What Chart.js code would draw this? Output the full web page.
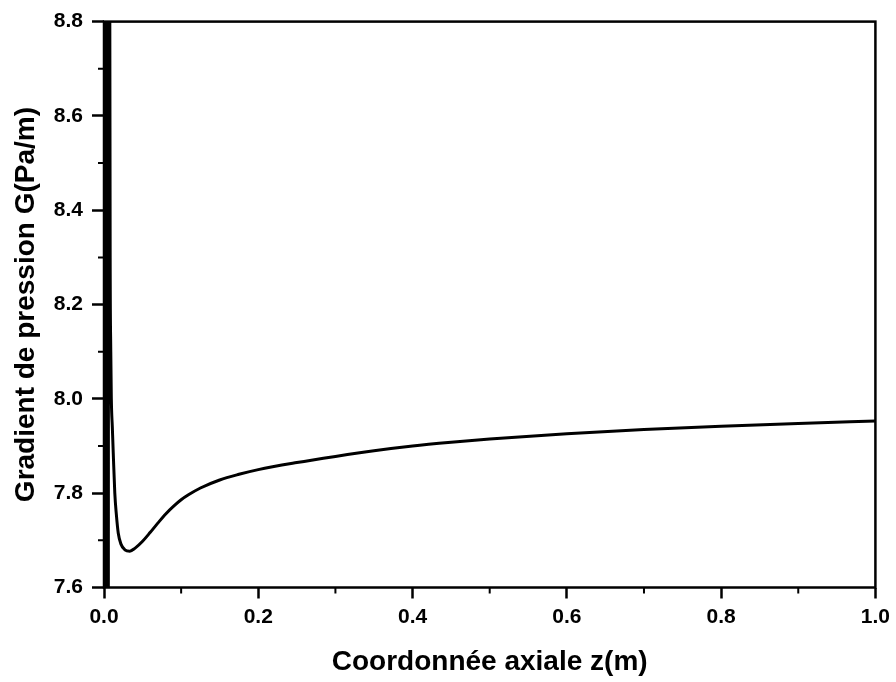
<!DOCTYPE html>
<html>
<head>
<meta charset="utf-8">
<script src="https://cdn.jsdelivr.net/npm/chart.js@4/dist/chart.umd.min.js"></script>
<style>
    body { margin: 0; background: #ffffff; }
    #wrap { width: 896px; height: 682px; }
</style>
</head>
<body>
<div id="wrap"><canvas id="gradChart" width="896" height="682"></canvas></div>
<script>
// Axial coordinate z(m) and pressure gradient G(Pa/m).
// The first points are the fast oscillation next to z = 0 (goes past the axis limits).
let zValues = [
    0.0000, 0.0005, 0.0010, 0.0015, 0.0020, 0.0025, 0.0030, 0.0035, 0.0040, 0.0045, 0.0050, 0.0055, 0.0060,
    0.0075, 0.0080, 0.0088, 0.0095, 0.0108, 0.0120, 0.0140, 0.0160, 0.0185, 0.0220, 0.0270, 0.0335,
    0.040, 0.050, 0.060, 0.070, 0.080, 0.090, 0.100, 0.110, 0.125, 0.150, 0.175, 0.200,
    0.250, 0.300, 0.350, 0.400, 0.450, 0.500, 0.600, 0.700, 0.800, 0.900, 1.000
];
let gValues = [
    9.2, 7.2, 9.2, 7.2, 9.2, 7.2, 9.2, 7.2, 9.2, 7.2, 9.2, 7.2, 9.2,
    8.85, 8.30, 8.10, 8.00, 7.94, 7.885, 7.80, 7.755, 7.715, 7.692, 7.680, 7.677,
    7.683, 7.698, 7.717, 7.737, 7.756, 7.772, 7.786, 7.797, 7.811, 7.828, 7.840, 7.850,
    7.865, 7.878, 7.890, 7.900, 7.908, 7.915, 7.926, 7.935, 7.942, 7.948, 7.953
];

let xTicks = [0.0, 0.2, 0.4, 0.6, 0.8, 1.0];
let yTicks = [7.6, 7.8, 8.0, 8.2, 8.4, 8.6, 8.8];
let xMinorTicks = [0.1, 0.3, 0.5, 0.7, 0.9];
let yMinorTicks = [7.7, 7.9, 8.1, 8.3, 8.5, 8.7];

let points = zValues.map((z, i) => ({ x: z, y: gValues[i] }));

// frame + minor ticks (Chart.js has no minor ticks)
const framePlugin = {
    id: 'frame',
    afterDraw(chart) {
        let ctx = chart.ctx;
        let area = chart.chartArea;
        let xs = chart.scales.x, ys = chart.scales.y;
        ctx.save();
        ctx.strokeStyle = '#000';
        ctx.lineWidth = 2.5;
        ctx.strokeRect(area.left, area.top, area.right - area.left, area.bottom - area.top);
        ctx.lineWidth = 2;
        ctx.beginPath();
        xMinorTicks.forEach(v => {
            let px = xs.getPixelForValue(v);
            ctx.moveTo(px, area.bottom);
            ctx.lineTo(px, area.bottom + 6);
        });
        yMinorTicks.forEach(v => {
            let py = ys.getPixelForValue(v);
            ctx.moveTo(area.left, py);
            ctx.lineTo(area.left - 6, py);
        });
        ctx.stroke();
        ctx.restore();
    }
};

const fontFamily = "'Liberation Sans', Arial, sans-serif";

new Chart(document.getElementById('gradChart').getContext('2d'), {
    type: 'line',
    data: {
        datasets: [{
            data: points,
            borderColor: '#000000',
            borderWidth: 3,
            pointRadius: 0,
            cubicInterpolationMode: 'monotone',
            fill: false
        }]
    },
    options: {
        responsive: false,
        animation: false,
        layout: { padding: { top: 20.5, right: 19.5, left: 0, bottom: 0 } },
        plugins: { legend: { display: false }, tooltip: { enabled: false } },
        scales: {
            x: {
                type: 'linear',
                min: 0,
                max: 1,
                afterFit: scale => { scale.height = 94.5; },
                afterBuildTicks: scale => { scale.ticks = xTicks.map(v => ({ value: v })); },
                grid: { drawOnChartArea: false, tickLength: 11, tickWidth: 2.5, tickColor: '#000' },
                border: { display: false },
                ticks: {
                    padding: 6,
                    color: '#000',
                    font: { family: fontFamily, size: 21, weight: 'bold' },
                    maxRotation: 0,
                    callback: v => v.toFixed(1)
                },
                title: {
                    display: true,
                    text: 'Coordonnée axiale z(m)',
                    color: '#000',
                    font: { family: fontFamily, size: 28, weight: 'bold' },
                    padding: { top: 0, bottom: 3 }
                }
            },
            y: {
                type: 'linear',
                min: 7.6,
                max: 8.8,
                afterFit: scale => { scale.width = 104; },
                afterBuildTicks: scale => { scale.ticks = yTicks.map(v => ({ value: v })); },
                grid: { drawOnChartArea: false, tickLength: 12, tickWidth: 2.5, tickColor: '#000' },
                border: { display: false },
                ticks: {
                    padding: 9,
                    color: '#000',
                    font: { family: fontFamily, size: 21, weight: 'bold' },
                    callback: v => v.toFixed(1)
                },
                title: {
                    display: true,
                    text: 'Gradient de pression G(Pa/m)',
                    color: '#000',
                    font: { family: fontFamily, size: 28, weight: 'bold' },
                    padding: { top: 9, bottom: 0 }
                }
            }
        }
    },
    plugins: [framePlugin]
});
</script>
</body>
</html>
